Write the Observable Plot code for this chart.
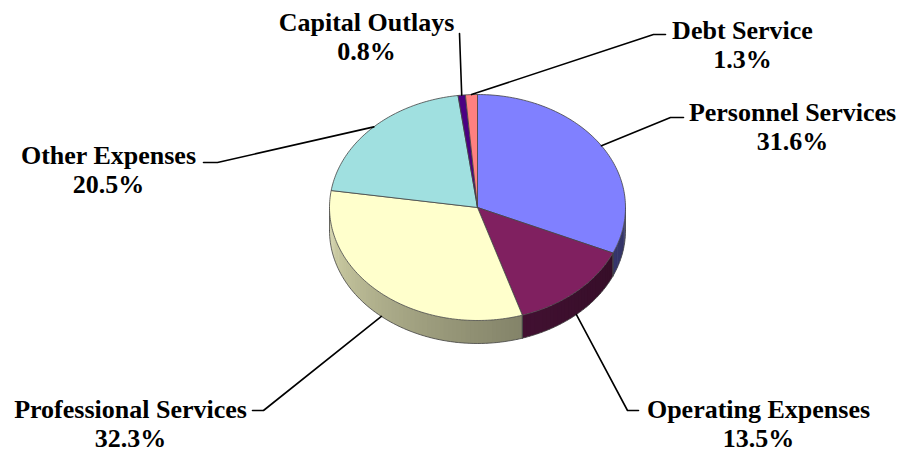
<!DOCTYPE html>
<html>
<head>
<meta charset="utf-8">
<script src="https://cdn.jsdelivr.net/npm/d3@7"></script>
<script src="https://cdn.jsdelivr.net/npm/@observablehq/plot@0.6"></script>
<style>
  html, body { margin: 0; padding: 0; background: #fff; }
  #chart svg { display: block; }
  #chart svg text { font-family: "Liberation Serif", "Times New Roman", Times, "DejaVu Serif", serif !important; }
</style>
</head>
<body>
<div id="chart"></div>
<script>
// ---- data ----
const categories = ["Personnel Services", "Operating Expenses", "Professional Services", "Other Expenses", "Capital Outlays", "Debt Service"];
const shares = [31.6, 13.5, 32.3, 20.5, 0.8, 1.3];
const pctLabels = ["31.6%", "13.5%", "32.3%", "20.5%", "0.8%", "1.3%"];

// ---- styles ----
const topColors = ["#8080FF", "#802060", "#FFFFCC", "#A0E0E0", "#4B0082", "#FF8080"];

// ---- layout (pixel space) ----
const W = 902, H = 453;
const cx = 477, cy = 207, rx = 148, ry = 113, depth = 23;
// label block: center x, baseline of first line; leader elbow and end
const labelX        = [792, 758, 130, 108, 366, 742];
const labelBaseline = [118, 415, 415, 161, 28, 36];
const elbowX        = [670, 627, 263, 217, 459, 653];
const elbowY        = [117, 410, 410, 162, 33, 34];
const endX          = [683, 638, 252, 203, 459, 665];
const anchorOnSide  = [false, true, true, false, false, false];

const px = a => cx + rx * Math.sin(a);
const py = a => cy - ry * Math.cos(a);

const arcs = d3.pie().sort(null).value(d => d)(shares);

function shadeColor(hex, f) {
  const c = d3.rgb(hex);
  return d3.rgb(c.r * f, c.g * f, c.b * f).formatHex();
}

// top faces
const topPts = [];
arcs.forEach((a, i) => {
  const n = Math.max(2, Math.ceil((a.endAngle - a.startAngle) / 0.02));
  topPts.push({id: i, x: cx, y: cy, fill: topColors[i]});
  for (let k = 0; k <= n; k++) {
    const t = a.startAngle + (a.endAngle - a.startAngle) * k / n;
    topPts.push({id: i, x: px(t), y: py(t), fill: topColors[i]});
  }
  topPts.push({id: i, x: cx, y: cy, fill: topColors[i]});
});

// side wall strips (front half: 90..270 deg)
const sidePts = [];
const outlinePts = [];
const lo = Math.PI / 2, hi = 3 * Math.PI / 2;
let sid = 0;
arcs.forEach((a, i) => {
  const s0 = Math.max(a.startAngle, lo), s1 = Math.min(a.endAngle, hi);
  if (s1 <= s0) return;
  const n = Math.max(1, Math.ceil((s1 - s0) / 0.03));
  for (let k = 0; k < n; k++) {
    const t0 = s0 + (s1 - s0) * k / n;
    const t1 = Math.min(s1, s0 + (s1 - s0) * (k + 1) / n + 0.012);
    const tm = ((t0 + t1) / 2 - lo) / Math.PI;
    const f = 0.4 + 0.45 * Math.pow(tm, 1.5);
    const col = shadeColor(topColors[i], f);
    sidePts.push({id: sid, x: px(t0), y: py(t0), fill: col});
    sidePts.push({id: sid, x: px(t1), y: py(t1), fill: col});
    sidePts.push({id: sid, x: px(t1), y: py(t1) + depth, fill: col});
    sidePts.push({id: sid, x: px(t0), y: py(t0) + depth, fill: col});
    sid++;
  }
  [s0, s1].forEach((t, j) => {
    outlinePts.push({id: "v" + i + "_" + j, x: px(t), y: py(t)});
    outlinePts.push({id: "v" + i + "_" + j, x: px(t), y: py(t) + depth});
  });
});
for (let k = 0; k <= 120; k++) {
  const t = lo + (hi - lo) * k / 120;
  outlinePts.push({id: "bottom", x: px(t), y: py(t) + depth});
}

// leaders and labels
const leaderPts = [];
const labels = [];
arcs.forEach((a, i) => {
  const m = (a.startAngle + a.endAngle) / 2;
  const ax = px(m), ay = py(m) + (anchorOnSide[i] ? depth : 0);
  leaderPts.push({id: i, x: ax, y: ay});
  leaderPts.push({id: i, x: elbowX[i], y: elbowY[i]});
  leaderPts.push({id: i, x: endX[i], y: elbowY[i]});
  labels.push({x: labelX[i], y: labelBaseline[i] - 18.5, text: categories[i] + "\n" + pctLabels[i]});
});

const chart = Plot.plot({
  width: W,
  height: H,
  margin: 0,
  x: {domain: [0, W], range: [0, W], axis: null},
  y: {domain: [0, H], range: [0, H], axis: null},
  color: {type: "identity"},
  marks: [
    Plot.line(sidePts, {x: "x", y: "y", z: "id", fill: "fill", stroke: null, curve: "linear-closed"}),
    Plot.line(outlinePts, {x: "x", y: "y", z: "id", stroke: "#444", strokeWidth: 0.8}),
    Plot.line(topPts, {x: "x", y: "y", z: "id", fill: "fill", stroke: "#444", strokeWidth: 0.8, curve: "linear-closed"}),
    Plot.line(leaderPts, {x: "x", y: "y", z: "id", stroke: "#000", strokeWidth: 1.6}),
    Plot.text(labels, {x: "x", y: "y", text: "text", textAnchor: "middle", lineAnchor: "top", lineHeight: 1.12,
      fontSize: 26, fontWeight: "bold", fontFamily: "Liberation Serif", fill: "#000"})
  ]
});
document.getElementById("chart").appendChild(chart);
</script>
</body>
</html>
